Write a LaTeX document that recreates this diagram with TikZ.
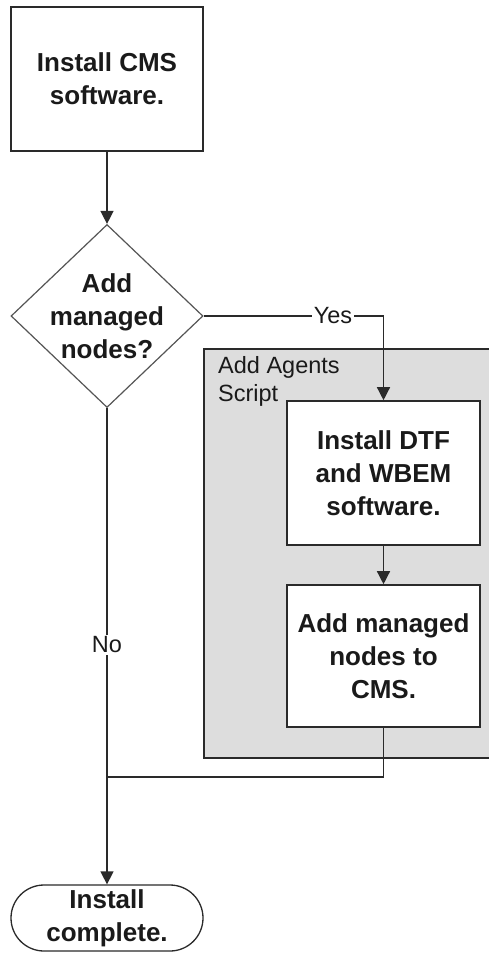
\documentclass[tikz,border=0pt]{standalone}
\usepackage{fontspec}
\setmainfont{Liberation Sans}
\usetikzlibrary{shapes.geometric,arrows.meta}
\definecolor{edgecol}{HTML}{2A2A2A}
\definecolor{txtcol}{HTML}{1A1A1A}
\definecolor{panelfill}{HTML}{DDDDDD}
\definecolor{diacol}{HTML}{555555}
\begin{document}
\begin{tikzpicture}[x=1pt,y=-1pt,
  boldtext/.style={font=\fontsize{26}{33}\selectfont\bfseries, text=txtcol, align=center},
  plaintext/.style={font=\fontsize{23.5}{28}\selectfont, text=txtcol},
  procbox/.style={boldtext, draw=edgecol, line width=1.6pt, fill=white, inner sep=0pt, minimum width=192pt, minimum height=144pt},
  decision/.style={diamond, draw=diacol, line width=1.2pt, fill=white, inner sep=0pt, minimum width=192pt, minimum height=183pt, aspect=1.05},
  terminal/.style={boldtext, draw=edgecol, line width=1.3pt, fill=white, rounded corners=33pt, inner sep=0pt, minimum width=192pt, minimum height=66pt},
  panelbox/.style={draw=edgecol, line width=1.6pt, fill=panelfill, inner sep=0pt},
  flow/.style={draw=edgecol, line width=1.4pt},
  arrowflow/.style={flow, -{Triangle[width=13pt,length=13pt]}},
  lbl/.style={plaintext, fill=white, inner sep=2pt}
]
\useasboundingbox (0,0) rectangle (489,953);
\fill[white] (0,0) rectangle (489,953);

% panel
\node[panelbox, anchor=north west, minimum width=300pt, minimum height=409pt] (panel) at (203,348) {};
\node[plaintext, anchor=north west, align=left, inner sep=0pt] (paneltitle) at (218,356) {Add Agents\\Script};

% nodes
\node[procbox] (install) at (107,79) {Install CMS\\software.};
\node[decision] (dec) at (107,316) {};
\node[boldtext] (dectext) at (dec.center) {Add\\managed\\nodes?};
\node[procbox, minimum width=193pt] (dtf) at (383.5,473) {Install DTF\\and WBEM\\software.};
\node[procbox, minimum width=193pt, minimum height=142pt] (addnodes) at (383.5,656) {Add managed\\nodes to\\CMS.};
\node[terminal] (done) at (107,918) {Install\\complete.};

% connectors
\draw[arrowflow] (install.south) -- (dec.north);
\coordinate (yescorner) at (dtf.north |- dec.east);
\draw[arrowflow] (dec.east) -- (yescorner) -- (dtf.north);
\node[lbl] (yes) at (333,316) {Yes};
\draw[arrowflow] (dtf.south) -- (addnodes.north);
\coordinate (merge) at (107,777);
\draw[flow] (addnodes.south) |- (merge);
\draw[arrowflow] (dec.south) -- (done.north);
\node[lbl] (no) at (107,645) {No};
\end{tikzpicture}
\end{document}
